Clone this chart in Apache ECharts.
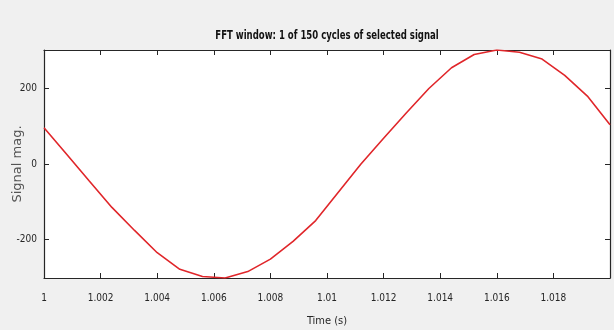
<!DOCTYPE html>
<html>
<head>
<meta charset="utf-8">
<script src="https://cdn.jsdelivr.net/npm/echarts@6/dist/echarts.min.js"></script>
<style>
  html, body { margin: 0; padding: 0; background: #f0f0f0; }
  #chart { width: 614px; height: 330px; }
</style>
</head>
<body>
<div id="chart"></div>
<script>
// One cycle of the selected signal (time in s, magnitude)
const times = [1.0000, 1.0008, 1.0016, 1.0024, 1.0032, 1.0040, 1.0048, 1.0056,
               1.0064, 1.0072, 1.0080, 1.0088, 1.0096, 1.0104, 1.0112, 1.0120,
               1.0128, 1.0136, 1.0144, 1.0152, 1.0160, 1.0168, 1.0176, 1.0184,
               1.0192, 1.0200];
const mags  = [96, 26, -45, -115, -176, -235, -279, -298,
               -302, -285, -252, -205, -150, -75, 0, 68,
               135, 200, 255, 290, 302, 296, 278, 235,
               180, 104];

const xTicks = [1, 1.002, 1.004, 1.006, 1.008, 1.01, 1.012, 1.014, 1.016, 1.018];
const yTicks = [-200, 0, 200];

const titleText = 'FFT window: 1 of 150 cycles of selected signal';
const xName = 'Time (s)';
const yName = 'Signal mag.';

const xMin = 1, xMax = 1.02;
const yMin = -302, yMax = 302;

const narrow = '"DejaVu Sans Condensed", "Liberation Sans", sans-serif';
const ink = '#262626';

const chart = echarts.init(document.getElementById('chart'), null, { renderer: 'canvas' });

const fmtX = v => String(+v.toFixed(3));

const tickStyle = { show: true, inside: true, length: 5, lineStyle: { color: ink } };
const lineStyle = { show: true, onZero: false, lineStyle: { color: ink, width: 1.2 } };

chart.setOption({
  animation: false,
  backgroundColor: '#f0f0f0',
  // condensed bold title, centred over the plot box
  graphic: [{
    type: 'text',
    x: 327, y: 36,
    scaleX: 0.73,
    style: {
      text: titleText,
      align: 'center', verticalAlign: 'middle',
      font: 'bold 13px "DejaVu Sans Condensed", sans-serif',
      fill: '#111'
    }
  }],
  grid: {
    left: 44, right: 4, top: 50, bottom: 52,
    containLabel: false, outerBoundsMode: 'none',
    show: true, backgroundColor: '#ffffff', borderWidth: 0
  },
  xAxis: [{
    type: 'value', min: xMin, max: xMax, position: 'bottom',
    name: xName, nameLocation: 'middle', nameGap: 38, nameMoveOverlap: false,
    nameTextStyle: { fontFamily: narrow, fontSize: 11, color: ink },
    axisLine: lineStyle,
    axisTick: Object.assign({ customValues: xTicks }, tickStyle),
    axisLabel: { customValues: xTicks, formatter: fmtX, margin: 15,
                 fontFamily: narrow, fontSize: 10, color: ink },
    splitLine: { show: false }
  }, {
    type: 'value', min: xMin, max: xMax, position: 'top',
    axisLine: lineStyle,
    axisTick: Object.assign({ customValues: xTicks }, tickStyle),
    axisLabel: { show: false },
    splitLine: { show: false }
  }],
  yAxis: [{
    type: 'value', min: yMin, max: yMax, position: 'left',
    name: yName, nameLocation: 'middle', nameGap: 20, nameRotate: 90, nameMoveOverlap: false,
    nameTextStyle: { fontFamily: '"DejaVu Sans", sans-serif', fontSize: 13, color: '#555' },
    axisLine: lineStyle,
    axisTick: Object.assign({ customValues: yTicks }, tickStyle),
    axisLabel: { customValues: yTicks, margin: 7, fontFamily: narrow, fontSize: 10, color: ink },
    splitLine: { show: false }
  }, {
    type: 'value', min: yMin, max: yMax, position: 'right',
    axisLine: lineStyle,
    axisTick: Object.assign({ customValues: yTicks }, tickStyle),
    axisLabel: { show: false },
    splitLine: { show: false }
  }],
  series: [{
    type: 'line',
    xAxisIndex: 0, yAxisIndex: 0,
    data: times.map((t, i) => [t, mags[i]]),
    showSymbol: false,
    clip: true,
    lineStyle: { color: '#e0262a', width: 1.6 }
  }]
});
</script>
</body>
</html>
